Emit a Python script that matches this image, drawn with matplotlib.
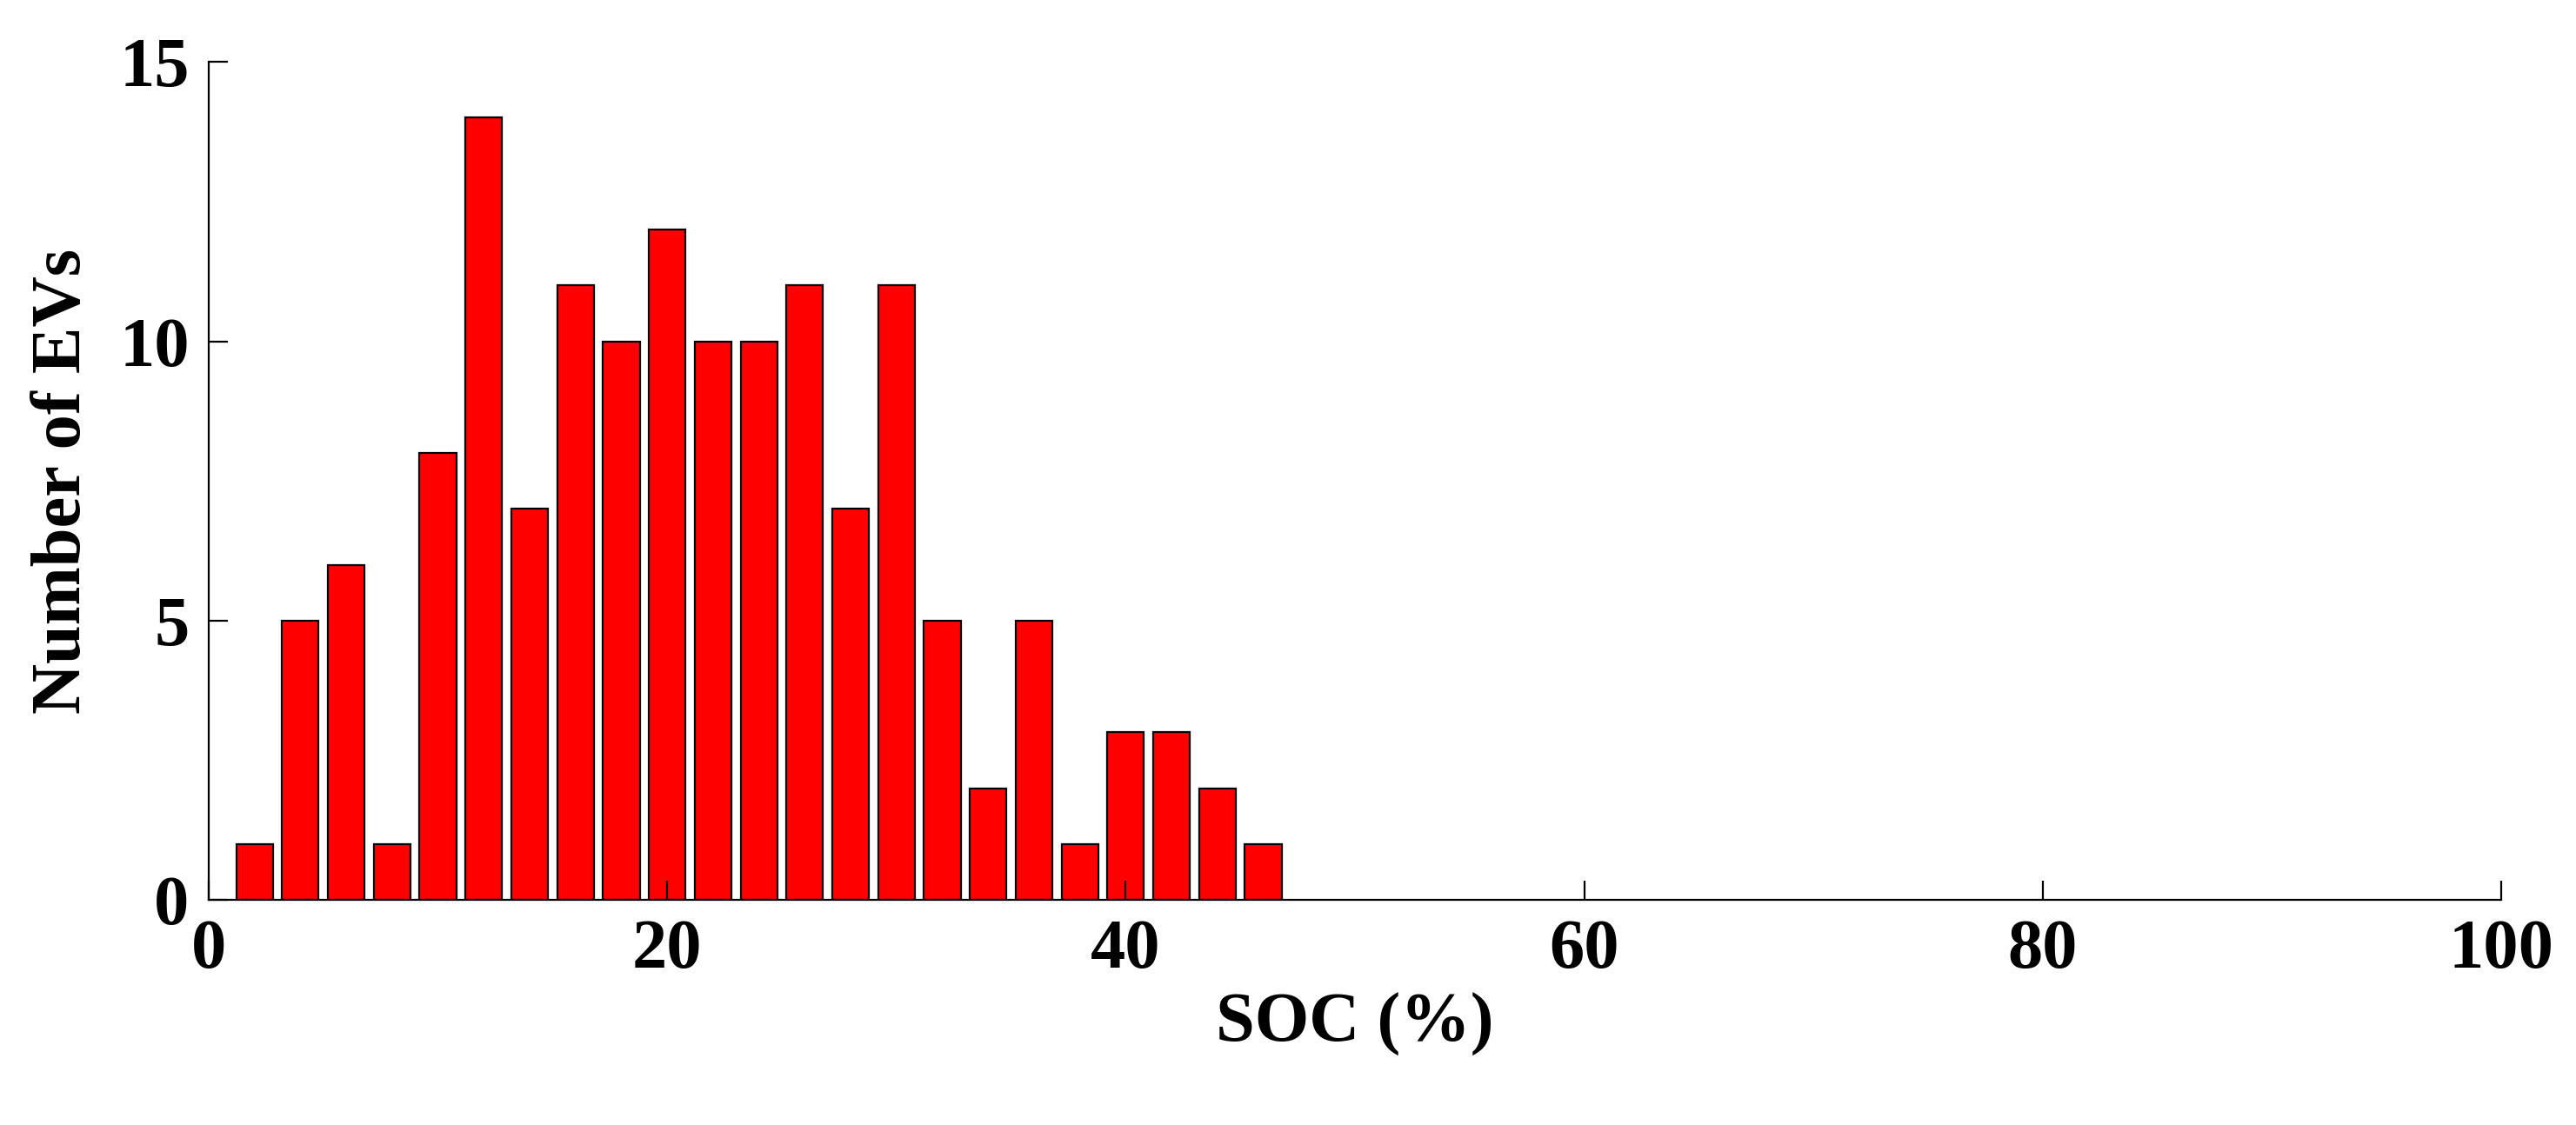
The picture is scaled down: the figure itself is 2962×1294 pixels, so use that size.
import matplotlib
matplotlib.use("Agg")
import matplotlib.pyplot as plt

soc_centers = [2, 4, 6, 8, 10, 12, 14, 16, 18, 20, 22, 24, 26, 28, 30, 32, 34, 36, 38, 40, 42, 44, 46]
counts = [1, 5, 6, 1, 8, 14, 7, 11, 10, 12, 10, 10, 11, 7, 11, 5, 2, 5, 1, 3, 3, 2, 1]
xticks = [0, 20, 40, 60, 80, 100]
yticks = [0, 5, 10, 15]

plt.rcParams['font.family'] = ['Liberation Serif', 'DejaVu Serif']
plt.rcParams['font.weight'] = 'bold'

fig = plt.figure(figsize=(14.81, 6.47), dpi=200)
ax = fig.add_axes([0.081, 0.2, 0.89, 0.745])
ax.bar(soc_centers, counts, width=1.6, color='#ff0000', edgecolor='black', linewidth=0.8)
ax.set_xlim(0, 100)
ax.set_ylim(0, 15)
ax.set_xticks(xticks)
ax.set_yticks(yticks)
ax.tick_params(direction='in', length=8, width=0.8, labelsize=29, pad=8)
for lab in ax.get_xticklabels() + ax.get_yticklabels():
    lab.set_fontweight('bold')
ax.spines['top'].set_visible(False)
ax.spines['right'].set_visible(False)
ax.set_xlabel('SOC (%)', fontsize=29, fontweight='bold', labelpad=4)
ax.set_ylabel('Number of EVs', fontsize=29, fontweight='bold', labelpad=10)
fig.savefig('out.png', dpi=200)
